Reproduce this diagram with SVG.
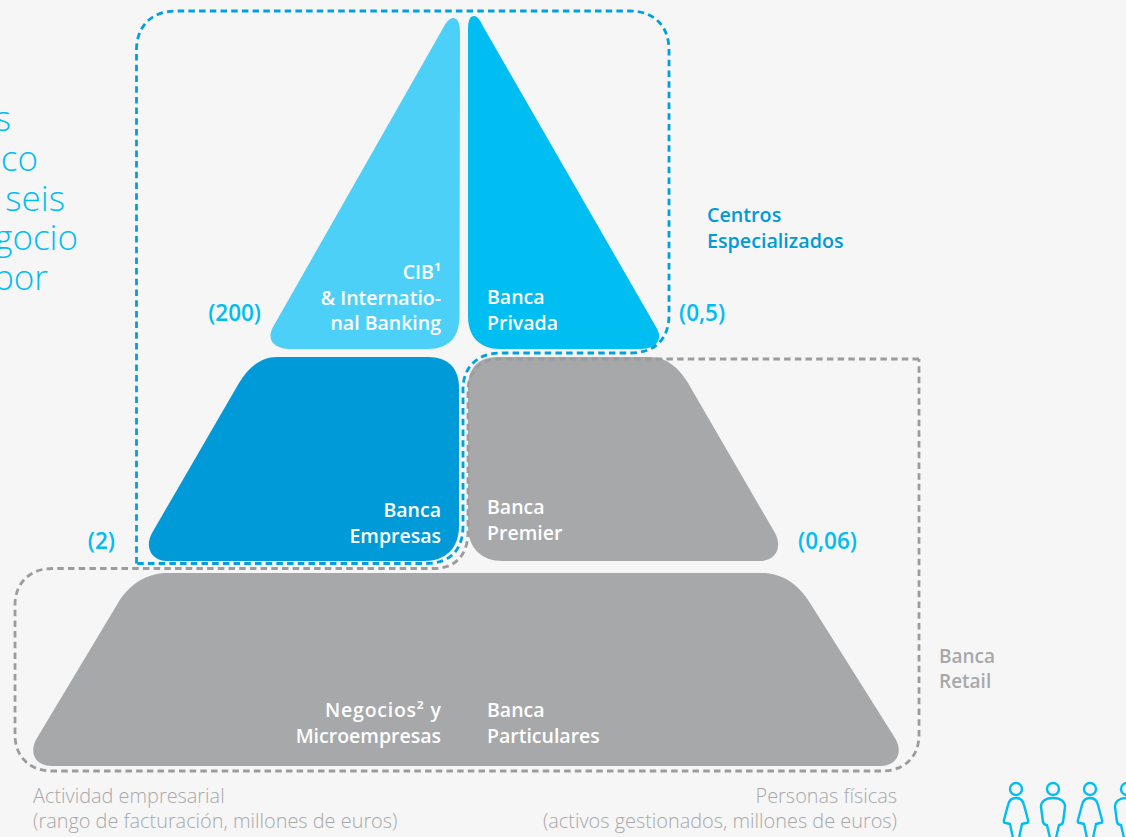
<svg xmlns="http://www.w3.org/2000/svg" width="1126" height="837" viewBox="0 0 1126 837">
<style>
text{font-family:"Open Sans","Noto Sans","Liberation Sans",sans-serif}
.w{font-size:19.5px;font-weight:600;fill:#fff}
.v{font-size:22.5px;font-weight:600;fill:#00bdf2}
.g{font-size:19px;font-weight:600;fill:#a7a8aa}
.c{font-size:19.7px;font-weight:600;fill:#009ad9}
.a{font-size:19.9px;font-weight:300;fill:#a7a8aa}
.h{font-size:35px;font-weight:300;fill:#00bdf2;text-anchor:end}
.e{text-anchor:end}
.p{fill:none;stroke:#00bdf2;stroke-width:2.4;stroke-linejoin:round}
</style>
<rect width="1126" height="837" fill="#f6f6f6"/>
<g id="intro">
<text class="h" x="11" y="131">s</text>
<text class="h" x="38" y="171">co</text>
<text class="h" x="65" y="211">seis</text>
<text class="h" x="78" y="250">gocio</text>
<text class="h" x="48" y="290">por</text>
</g>
<g id="cib">
<path fill="#4dd0f7" d="M460 32C460 22 457 18 453 18C449 18 445 24 442 30L273 327C266 340 274 349 290 349H428C449 349 459.5 337 459.5 316Z"/>
<text class="w e" x="441" y="279">CIB¹</text>
<text class="w e" x="441" y="305">&amp; Internatio-</text>
<text class="w e" x="441" y="330">nal Banking</text>
</g>
<g id="privada">
<path fill="#00bdf2" d="M468 30C468 20 470 16 474 16C478 16 481 22 484 28L656 327C664 340 656 349 640 349H500C480 349 468 337 468 316Z"/>
<text class="w" x="487" y="304">Banca</text>
<text class="w" x="487" y="330">Privada</text>
</g>
<g id="empresas">
<path fill="#009ad9" d="M277 357H428C448 357 459 368 459 388V526C459 548 446 561 424 561H167C152 561 144 548 152 533L239 383C247 370 259 357 277 357Z"/>
<text class="w e" x="441" y="517">Banca</text>
<text class="w e" x="441" y="543">Empresas</text>
</g>
<g id="premier">
<path fill="#a7a8aa" d="M498 357H650C668 357 680 370 688 383L775 533C783 548 775 561 760 561H503C481 561 468 548 468 526V388C468 368 478 357 498 357Z"/>
<text class="w" x="487" y="514">Banca</text>
<text class="w" x="487" y="540">Premier</text>
</g>
<g id="retail-base">
<path fill="#a7a8aa" d="M167 573H762C781 573 798 583 810 603L895 738C904 753 896 766 880 766H52C36 766 28 753 37 738L118 603C130 583 148 573 167 573Z"/>
<text class="w e" x="441" y="717" textLength="116">Negocios² y</text>
<text class="w e" x="441" y="743">Microempresas</text>
<text class="w" x="487" y="717">Banca</text>
<text class="w" x="487" y="743">Particulares</text>
</g>
<g id="connectors" fill="none" stroke-width="2.8" stroke-dasharray="6.5 4.2">
<path stroke="#9b9c9e" d="M919 359H500C480 359 468 371 468 391V532C468 554 456 568.500 434 568.500H52C30 568.500 15 583 15 605V735C15 757 30 771 52 771H882C904 771 919 757 919 735V359"/>
<path stroke="#009fdf" d="M136.500 563.500V50C136.500 26 152 11 176 11H630C654 11 669 26 669 50V315C669 339 655 353 630 353H500C478 353 463 367 463 389V526C463 550 450 563.500 426 563.500H136.500"/>
</g>
<g id="labels">
<text class="v e" x="261" y="321">(200)</text>
<text class="v" x="679" y="321">(0,5)</text>
<text class="v e" x="115" y="549">(2)</text>
<text class="v" x="798" y="549">(0,06)</text>
<text class="c" x="707" y="222">Centros</text>
<text class="c" x="707" y="248">Especializados</text>
<text class="g" x="939" y="663">Banca</text>
<text class="g" x="939" y="688">Retail</text>
<text class="a" x="33" y="803">Actividad empresarial</text>
<text class="a" x="33" y="828">(rango de facturación, millones de euros)</text>
<text class="a e" x="897" y="803">Personas físicas</text>
<text class="a e" x="897" y="828">(activos gestionados, millones de euros)</text>
</g>
<g id="people">
<circle class="p" cx="1016" cy="789" r="6"/><path class="p" d="M1016 798C1012 798 1009 800 1008 805L1004 820Q1003 823 1006 823L1010 824L1013 838M1016 798C1020 798 1023 800 1024 805L1028 820Q1029 823 1026 823L1022 824L1019 838"/>
<circle class="p" cx="1053" cy="789" r="6"/><path class="p" d="M1053 798C1046 798 1041 801 1041 807L1043 822Q1044 825 1047 825L1050 838M1053 798C1060 798 1065 801 1065 807L1063 822Q1062 825 1059 825L1056 838"/>
<circle class="p" cx="1090" cy="789" r="6"/><path class="p" d="M1090 798C1086 798 1083 800 1082 805L1078 820Q1077 823 1080 823L1084 824L1087 838M1090 798C1094 798 1097 800 1098 805L1102 820Q1103 823 1100 823L1096 824L1093 838"/>
<circle class="p" cx="1127" cy="789" r="6"/><path class="p" d="M1127 798C1120 798 1115 801 1115 807L1117 822Q1118 825 1121 825L1124 838"/>
</g>
</svg>
